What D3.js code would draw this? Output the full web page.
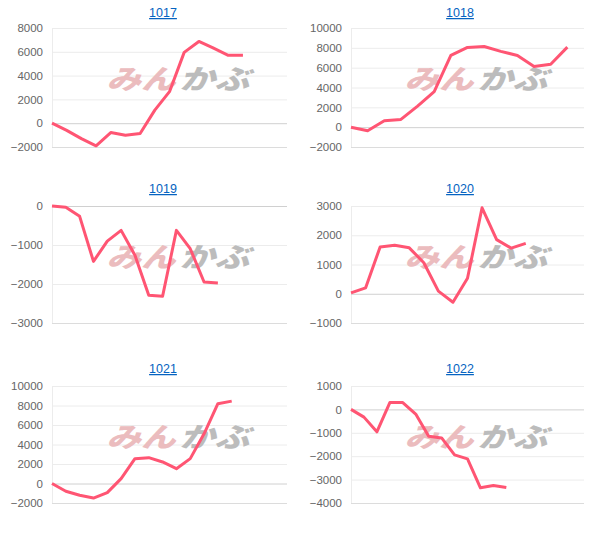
<!DOCTYPE html>
<html><head><meta charset="utf-8">
<script src="https://cdn.jsdelivr.net/npm/d3@7"></script>
<style>body{margin:0;background:#fff;}svg{display:block;}</style>
</head><body>
<svg id="c" width="615" height="536"></svg>
<script>
const titles = ["1017","1018","1019","1020","1021","1022"];
const slots = [16,14,17,16,17,18];
const yDomains = [[-2000,8000],[-2000,10000],[-3000,0],[-1000,3000],[-2000,10000],[-4000,1000]];
const yTicks = [
  [-2000,0,2000,4000,6000,8000],
  [-2000,0,2000,4000,6000,8000,10000],
  [-3000,-2000,-1000,0],
  [-1000,0,1000,2000,3000],
  [-2000,0,2000,4000,6000,8000,10000],
  [-4000,-3000,-2000,-1000,0,1000]
];
const s1017 = [0,-600,-1300,-1900,-790,-1010,-870,1100,2650,5950,6870,6300,5700,5700];
const s1018 = [0,-370,640,780,2130,3580,7230,8040,8140,7640,7230,6110,6350,8070];
const s1019 = [0,-35,-265,-1420,-900,-625,-1265,-2290,-2315,-625,-1095,-1950,-1975];
const s1020 = [30,200,1600,1660,1570,1060,90,-290,530,2940,1850,1560,1720];
const s1021 = [0,-790,-1210,-1490,-940,500,2550,2650,2210,1520,2550,5100,8180,8450];
const s1022 = [0,-330,-960,290,290,-200,-1150,-1220,-1945,-2115,-3350,-3250,-3335];
const series = [s1017,s1018,s1019,s1020,s1021,s1022];

const svg = d3.select("#c");
const colLeft = [52,351], colRight = [287,584], colTitle = [163,460];
const rowTop = [28,206,386], rowBottom = [147,323,503], rowTitle = [17,193,373];

series.forEach((data,i)=>{
  const col = i%2, row = Math.floor(i/2);
  const x = d3.scaleLinear().domain([0,slots[i]]).range([colLeft[col],colRight[col]]);
  const y = d3.scaleLinear().domain(yDomains[i]).range([rowBottom[row],rowTop[row]]);
  const g = svg.append("g");
  // title
  g.append("text").attr("x",colTitle[col]).attr("y",rowTitle[row])
    .attr("text-anchor","middle").attr("font-family","Liberation Sans, Arial, sans-serif")
    .attr("font-size",12.5).attr("fill","#0563c1").attr("text-decoration","underline")
    .text(titles[i]);
  // grid
  const axis = d3.axisLeft(y).tickValues(yTicks[i]).tickSize(-(colRight[col]-colLeft[col])).tickPadding(9).tickFormat(d3.format("d"));
  const ag = g.append("g").attr("transform",`translate(${colLeft[col]},0)`).call(axis);
  ag.select(".domain").attr("stroke","#ececec");
  ag.selectAll(".tick line").attr("stroke",d=> d===0 ? "#d0d0d0" : "#ececec").attr("stroke-width",1);
  ag.selectAll(".tick text").attr("fill","#666").attr("font-size",11.5)
    .attr("font-family","Liberation Sans, Arial, sans-serif");
  // bottom line
  g.append("line").attr("x1",colLeft[col]).attr("x2",colRight[col])
    .attr("y1",rowBottom[row]+0.5).attr("y2",rowBottom[row]+0.5).attr("stroke","#dcdcdc");
  // watermark
  const wx = (colLeft[col]+colRight[col])/2 + 8, wy = rowTop[row]+61;
  const wm = g.append("g").attr("font-family","Noto Sans CJK JP, sans-serif").attr("font-weight",900).attr("font-style","italic").attr("font-size",27);
  wm.append("text").attr("x",wx-71).attr("y",wy).attr("textLength",69).attr("lengthAdjust","spacingAndGlyphs")
    .attr("fill","#ebbcbe").text("みん");
  wm.append("text").attr("x",wx+2).attr("y",wy).attr("textLength",70).attr("lengthAdjust","spacingAndGlyphs")
    .attr("fill","#bcbcbc").text("かぶ");
  // line
  const line = d3.line().x((d,j)=>x(j)).y(d=>y(d));
  g.append("path").datum(data).attr("d",line).attr("fill","none")
    .attr("stroke","#ff5573").attr("stroke-width",3).attr("stroke-linejoin","round");
});
</script>
</body></html>
